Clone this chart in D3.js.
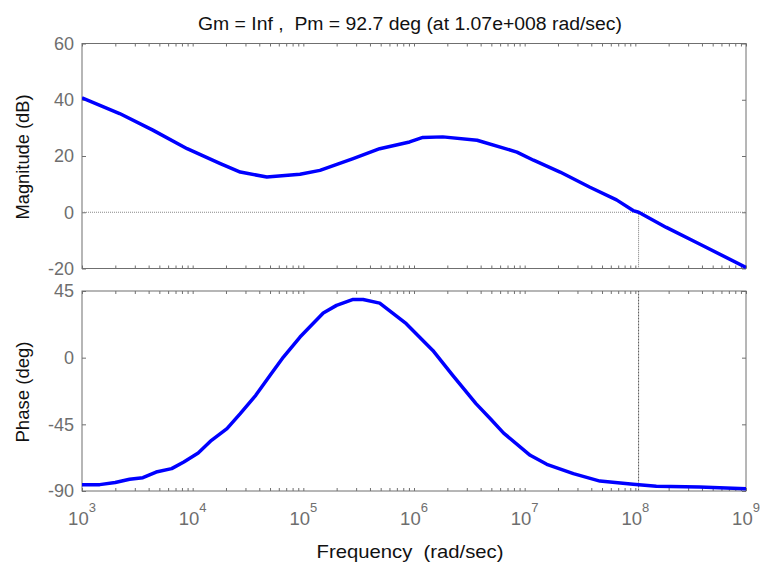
<!DOCTYPE html>
<html>
<head>
<meta charset="utf-8">
<script src="https://cdn.jsdelivr.net/npm/d3@7"></script>
<style>
  body { margin: 0; background: #fff; }
  svg { display: block; font-family: "Liberation Sans", Arial, sans-serif; }
</style>
</head>
<body>
<div id="chart"></div>
<script>
// frequencies are given as log10(rad/sec)
var magLogW = [3.0, 3.34, 3.64, 3.95, 4.25, 4.43, 4.67, 4.97, 5.15, 5.45, 5.69, 5.96, 6.08, 6.26, 6.57, 6.93, 7.08, 7.32, 7.59, 7.83, 7.98, 8.03, 8.28, 8.58, 9.0];
var magDb   = [40.7, 35.1, 29.2, 22.6, 17.3, 14.3, 12.5, 13.5, 14.9, 19.1, 22.6, 25.0, 26.6, 26.8, 25.6, 21.4, 18.5, 14.3, 8.9, 4.4, 0.6, 0.0, -5.4, -11.3, -19.6];

var phaseLogW = [3.0, 3.16, 3.30, 3.43, 3.55, 3.67, 3.81, 3.92, 4.05, 4.17, 4.31, 4.43, 4.57, 4.70, 4.82, 4.97, 5.18, 5.30, 5.45, 5.54, 5.69, 5.93, 6.17, 6.35, 6.56, 6.69, 6.81, 7.05, 7.20, 7.44, 7.68, 7.98, 8.19, 8.58, 9.0];
var phaseDeg  = [-85.7, -85.7, -84.3, -82.1, -81.0, -77.2, -74.9, -70.4, -64.3, -55.8, -47.9, -37.8, -25.4, -11.9, 0.4, 13.9, 30.1, 35.3, 39.3, 39.3, 36.8, 22.9, 4.9, -11.9, -31.0, -41.2, -50.9, -65.9, -72.0, -78.3, -83.3, -85.5, -86.8, -87.3, -88.4];

var magTicks = [-20, 0, 20, 40, 60];
var phaseTicks = [-90, -45, 0, 45];
var decades = [3, 4, 5, 6, 7, 8, 9];
var crossoverW = 1.07e8;
var titleText = "Gm = Inf ,  Pm = 92.7 deg (at 1.07e+008 rad/sec)";

var W = 762, H = 564;
var left = 82, right = 746;
var axisCol = "#6f6f6f", labCol = "#6e6e6e";

var svg = d3.select("#chart").append("svg").attr("width", W).attr("height", H);

var x = d3.scaleLog().domain([1e3, 1e9]).range([left, right]);
var yMag = d3.scaleLinear().domain([-20, 60]).range([268.5, 43.5]);
var yPh = d3.scaleLinear().domain([-90, 45]).range([491, 291]);

svg.append("text").attr("x", 410).attr("y", 29.5).attr("text-anchor", "middle")
  .attr("font-size", 18).attr("fill", "#111").style("white-space", "pre")
  .attr("textLength", 424).attr("lengthAdjust", "spacingAndGlyphs").text(titleText);

function panel(y, ticks, logW, vals, name, cy, len) {
  var g = svg.append("g");
  var top = y.range()[1], bot = y.range()[0];
  var id = "clip" + name.length;
  svg.append("clipPath").attr("id", id).append("rect")
    .attr("x", left).attr("y", top - 2).attr("width", right - left).attr("height", bot - top + 4);

  // minor / major ticks on top and bottom edges
  var minor = x.ticks();
  g.append("g").attr("transform", "translate(0," + top + ")")
    .call(d3.axisBottom(x).tickValues(minor).tickSize(3).tickFormat(""))
    .call(function(s){ s.select(".domain").remove(); s.selectAll("line").attr("stroke", axisCol); });
  g.append("g").attr("transform", "translate(0," + bot + ")")
    .call(d3.axisTop(x).tickValues(minor).tickSize(3).tickFormat(""))
    .call(function(s){ s.select(".domain").remove(); s.selectAll("line").attr("stroke", axisCol); });

  // y ticks left (labelled, plain hyphen minus) and right
  g.append("g").attr("transform", "translate(" + left + ",0)")
    .call(d3.axisLeft(y).tickValues(ticks).tickSizeInner(-4).tickSizeOuter(0).tickPadding(8)
      .tickFormat(function(d){ return String(d); }))
    .call(function(s){
      s.select(".domain").remove();
      s.selectAll("line").attr("stroke", axisCol);
      s.selectAll("text").attr("font-size", 18).attr("fill", labCol)
        .attr("font-family", "Liberation Sans, Arial, sans-serif");
    });
  g.append("g").attr("transform", "translate(" + right + ",0)")
    .call(d3.axisRight(y).tickValues(ticks).tickSizeInner(-4).tickSizeOuter(0).tickFormat(""))
    .call(function(s){ s.select(".domain").remove(); s.selectAll("line").attr("stroke", axisCol); });

  g.append("rect").attr("x", left).attr("y", top).attr("width", right - left).attr("height", bot - top)
    .attr("fill", "none").attr("stroke", axisCol).attr("stroke-width", 1);

  svg.append("text").attr("transform", "translate(29," + cy + ") rotate(-90)")
    .attr("text-anchor", "middle").attr("font-size", 17.5).attr("fill", "#111")
    .attr("textLength", len).attr("lengthAdjust", "spacingAndGlyphs").text(name);

  var line = d3.line()
    .x(function(d, i){ return x(Math.pow(10, logW[i])); })
    .y(function(d){ return y(d); });
  svg.append("path").datum(vals).attr("d", line).attr("clip-path", "url(#" + id + ")")
    .attr("fill", "none").attr("stroke", "#0000ff").attr("stroke-width", 3.5)
    .attr("stroke-linejoin", "round");
  return g;
}

var gm = panel(yMag, magTicks, magLogW, magDb, "Magnitude (dB)", 157, 125);
// 0 dB line and crossover marker
gm.append("line").attr("x1", left).attr("x2", right).attr("y1", yMag(0)).attr("y2", yMag(0))
  .attr("stroke", "#888").attr("stroke-dasharray", "1,1");
gm.append("line").attr("x1", x(crossoverW)).attr("x2", x(crossoverW)).attr("y1", yMag(0)).attr("y2", yMag(-20))
  .attr("stroke", "#777").attr("stroke-dasharray", "1,1");

var gp = panel(yPh, phaseTicks, phaseLogW, phaseDeg, "Phase (deg)", 392, 101);
gp.append("line").attr("x1", x(crossoverW)).attr("x2", x(crossoverW)).attr("y1", yPh(45)).attr("y2", yPh(-90))
  .attr("stroke", "#555").attr("stroke-dasharray", "1,0.5");

// decade labels 10^n
var xl = svg.append("g");
decades.forEach(function(n){
  var t = xl.append("text").attr("x", x(Math.pow(10, n))).attr("y", 525)
    .attr("text-anchor", "middle").attr("fill", labCol).attr("font-size", 18.5);
  t.append("tspan").text("10");
  t.append("tspan").attr("font-size", 13).attr("dy", -13).text(n);
});

svg.append("text").attr("x", 410).attr("y", 558).attr("text-anchor", "middle")
  .attr("font-size", 19).attr("fill", "#111").style("white-space", "pre")
  .attr("textLength", 187).attr("lengthAdjust", "spacingAndGlyphs").text("Frequency  (rad/sec)");
</script>
</body>
</html>
